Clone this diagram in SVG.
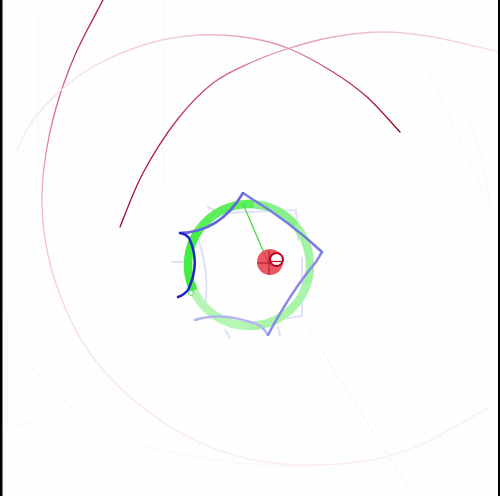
<svg xmlns="http://www.w3.org/2000/svg" width="500" height="496" viewBox="0 0 500 496">
<defs>
<style>
.ghost{fill:none;stroke:#8080d0;stroke-opacity:0.04;stroke-width:1.5}
.ghostblue{fill:none;stroke:#c8c8f4;stroke-width:2;stroke-linecap:round;stroke-opacity:0.55}
.arc{fill:none;stroke-linecap:round}
.ring{fill:none;stroke-width:8.5}
.star{fill:none;stroke-width:2.5;stroke-linecap:round;stroke-linejoin:round}
</style>
<linearGradient id="g1" gradientUnits="userSpaceOnUse" x1="90" y1="0" x2="300" y2="470">
<stop offset="0" stop-color="#a01030"/>
<stop offset="0.12" stop-color="#d05870"/>
<stop offset="0.3" stop-color="#eeb0bc"/>
<stop offset="0.55" stop-color="#f8dce2"/>
<stop offset="1" stop-color="#fbecf0"/>
</linearGradient>
<linearGradient id="g2" gradientUnits="userSpaceOnUse" x1="120" y1="227" x2="500" y2="50">
<stop offset="0" stop-color="#a00020"/>
<stop offset="0.3" stop-color="#c84060"/>
<stop offset="0.5" stop-color="#e38a9a"/>
<stop offset="0.75" stop-color="#f2c4cc"/>
<stop offset="1" stop-color="#f8e0e4"/>
</linearGradient>
<linearGradient id="g3" gradientUnits="userSpaceOnUse" x1="400" y1="132" x2="17" y2="150">
<stop offset="0" stop-color="#900018"/>
<stop offset="0.15" stop-color="#c03858"/>
<stop offset="0.3" stop-color="#e494a4"/>
<stop offset="0.55" stop-color="#f2c8d0"/>
<stop offset="1" stop-color="#fae8ec"/>
</linearGradient>
</defs>
<rect x="0" y="0" width="500" height="496" fill="#fefeff"/>
<g id="background-ghosts">
<path class="ghost" d="M38,10 L38,170 M163,0 L163,185 M8,315 L8,430"/>
<path class="ghost" d="M387,7 L410,30 M427,67 L487,200 M13,427 L100,397"/>
<path class="ghost" d="M17,343 Q60,420 150,447 Q220,465 300,467"/>
<path class="ghost" d="M460,100 Q485,150 490,210"/>
<path d="M307,327 L413,495" fill="none" stroke="#f0a0b0" stroke-opacity="0.15" stroke-width="1"/>
</g>
<g id="red-arcs">
<path id="arc1" class="arc" stroke="url(#g1)" stroke-width="1.3" d="M103,0 C98.3,9.2 82.8,37 75,55 C67.2,73 61,90.5 56,108 C51,125.5 47.3,143.8 45,160 C42.7,176.2 41.7,190 42,205 C42.3,220 44,235 47,250 C50,265 54,279.5 60,295 C66,310.5 73.8,328.3 83,343 C92.2,357.7 102.2,370.2 115,383 C127.8,395.8 144.2,409.3 160,420 C175.8,430.7 192.5,440 210,447 C227.5,454 247.2,459 265,462 C282.8,465 299.5,465.3 317,465 C334.5,464.7 352.8,463.3 370,460 C387.2,456.7 400,453.8 420,445 C440,436.2 478.3,413.3 490,407"/>
<path id="arc2" class="arc" stroke="url(#g2)" stroke-width="1.3" d="M120,227 C123.8,218 133.5,190.8 143,173 C152.5,155.2 165.3,135 177,120 C188.7,105 200.8,92.5 213,83 C225.2,73.5 237.2,68.8 250,63 C262.8,57.2 276.2,52.3 290,48 C303.8,43.7 317.5,39.7 333,37 C348.5,34.3 366.3,32 383,32 C399.7,32 413.5,33.7 433,37 C452.5,40.3 488.8,49.5 500,52"/>
<path id="arc3" class="arc" stroke="url(#g3)" stroke-width="1.3" d="M400,132 C394.5,126.2 378.2,107 367,97 C355.8,87 345.8,80 333,72 C320.2,64 303.8,54.7 290,49 C276.2,43.3 265,40.3 250,38 C235,35.7 216.7,34.2 200,35 C183.3,35.8 166.7,38.3 150,43 C133.3,47.7 113.8,56 100,63 C86.2,70 78.2,75.5 67,85 C55.8,94.5 41.3,109.2 33,120 C24.7,130.8 19.7,145 17,150"/>
</g>
<g id="ghost-shape">
<path class="ghostblue" d="M208,207 L221,214 M197,236 Q210,270 205,308 M172,262 L188,262 M222,213 L296,210 L298,240 M302,258 L302,316 L288,318 M225,330 L230,338 M278,327 L280,336"/>
</g>
<g id="green-ring">
<path class="ring" stroke="#b4f7b4" d="M249,326 A61,61 0 0 1 193.7,290.8"/>
<path class="ring" stroke="#aaf5aa" d="M306.3,285.9 A61,61 0 0 1 249,326"/>
<path class="ring" stroke="#a2f4a2" d="M295.7,225.8 A61,61 0 0 1 306.3,285.9"/>
<path class="ring" stroke="#88f088" d="M254.3,204.2 A61,61 0 0 1 295.7,225.8"/>
<path class="ring" stroke="#5cee5c" d="M199,230 A61,61 0 0 1 254.3,204.2"/>
<path class="ring" stroke="#44ec44" d="M193.7,290.8 A61,61 0 0 1 199,230"/>
<circle cx="191" cy="293" r="2.5" fill="#ffffff" stroke="#50e050" stroke-width="1"/>
</g>
<g id="blue-curve">
<path class="star" stroke="#b4b4f0" d="M268,335 Q262,324 250,322 Q220,312 195,320"/>
<path class="star" stroke="#8888ec" d="M322,252 L316,262 Q292,290 268,335"/>
<path class="star" stroke="#7a7ae6" d="M243,193 L252,199 Q290,222 322,252"/>
<path class="star" stroke="#6666de" d="M243,193 Q220,232 180,233"/>
<path class="star" stroke="#2323cc" stroke-width="3" d="M180,233 Q186,234 189,238 Q201,263 188,290 Q184,295 178,297"/>
</g>
<g id="radius-line">
<line x1="243" y1="204" x2="268" y2="262" stroke="#44dd44" stroke-width="1.3"/>
</g>
<g id="red-ball">
<circle cx="270" cy="262" r="13" fill="#e83848" fill-opacity="0.85"/>
<line x1="257" y1="263" x2="282" y2="263" stroke="#b01030" stroke-width="1"/>
<line x1="269" y1="251" x2="269" y2="275" stroke="#b01030" stroke-width="1"/>
<circle cx="276.5" cy="259.5" r="6.5" fill="#ffffff" stroke="#c00020" stroke-width="2"/>
<line x1="271" y1="261.5" x2="282" y2="261.5" stroke="#c00020" stroke-width="1.2"/>
</g>
<g id="frame">
<rect x="0" y="0" width="2.5" height="496" fill="#000000"/>
<rect x="498" y="0" width="2" height="496" fill="#000000"/>
</g>
</svg>
